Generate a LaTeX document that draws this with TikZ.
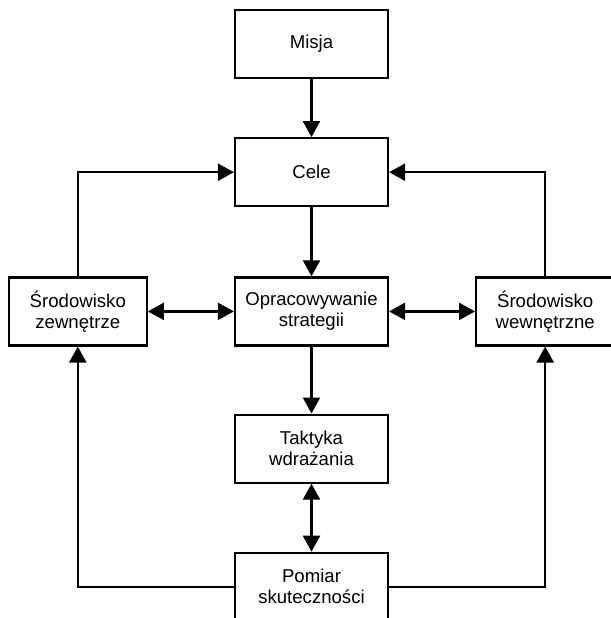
\documentclass[tikz,border=0pt]{standalone}
\usepackage{fontspec}
\setmainfont{Liberation Sans}
\usetikzlibrary{arrows.meta, positioning}

\begin{document}
\begin{tikzpicture}[
    node distance=29pt and 43pt,
    stage/.style={rectangle, draw=black, line width=1.1pt, fill=white, minimum width=76.5pt, minimum height=34pt, align=center, font=\fontsize{9.3}{10.5}\selectfont},
    side/.style={stage, minimum width=69pt},
    link/.style={-{Triangle[length=8pt, width=8.5pt]}, line width=1.1pt},
    twoway/.style={{Triangle[length=8pt, width=8.5pt]}-{Triangle[length=8pt, width=8.5pt]}, line width=1.1pt},
  ]
  \useasboundingbox (0,0) rectangle (305.5pt,-309pt);
  \node[stage] (misja) at (155.75pt,-22pt) {Misja};
  \node[stage, below=29pt of misja] (cele) {Cele};
  \node[stage, below=34.5pt of cele] (strategia) {Opracowywanie\\strategii};
  \node[side, left=43pt of strategia] (zewn) {Środowisko\\zewnętrze};
  \node[side, right=43pt of strategia] (wewn) {Środowisko\\wewnętrzne};
  \node[stage, below=33.5pt of strategia] (taktyka) {Taktyka\\wdrażania};
  \node[stage, below=34pt of taktyka] (pomiar) {Pomiar\\skuteczności};

  \draw[link] (misja) -- (cele);
  \draw[link] (cele) -- (strategia);
  \draw[link] (strategia) -- (taktyka);
  \draw[twoway] (taktyka) -- (pomiar);
  \draw[twoway] (zewn) -- (strategia);
  \draw[twoway] (strategia) -- (wewn);
  \draw[link] (zewn.north) |- (cele.west);
  \draw[link] (wewn.north) |- (cele.east);
  \draw[link] (pomiar.west) -| (zewn.south);
  \draw[link] (pomiar.east) -| (wewn.south);
\end{tikzpicture}
\end{document}
